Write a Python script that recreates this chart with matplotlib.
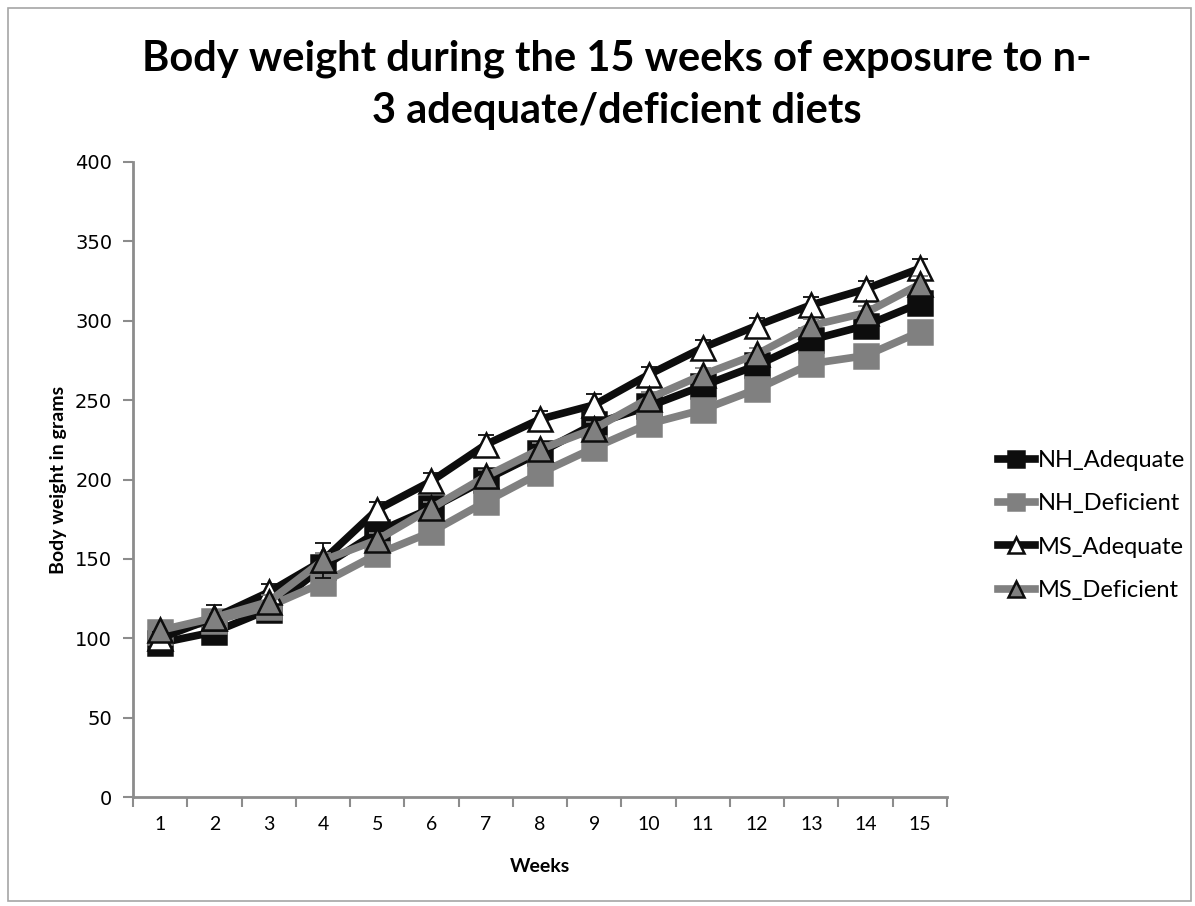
import numpy as np
import matplotlib.pyplot as plt
from matplotlib.patches import Rectangle

plt.rcParams['font.family'] = ['Lato', 'DejaVu Sans']

weeks = np.arange(1, 16)
week_labels = [str(w) for w in weeks]

nh_adequate = [97, 104, 118, 145, 167, 182, 200, 217, 235, 246, 259, 272, 288, 297, 311]
nh_deficient = [104, 111, 120, 135, 153, 167, 186, 204, 220, 235, 244, 257, 273, 278, 293]
ms_adequate = [100, 113, 129, 149, 181, 199, 222, 238, 247, 266, 283, 297, 310, 320, 333]
ms_deficient = [105, 113, 123, 149, 162, 182, 202, 219, 232, 251, 266, 279, 297, 305, 323]

nh_adequate_err = [3, 4, 4, 5, 4, 4, 4, 4, 4, 4, 4, 4, 5, 5, 6]
nh_deficient_err = [3, 3, 4, 4, 4, 4, 4, 4, 4, 4, 4, 4, 4, 4, 5]
ms_adequate_err = [4, 8, 5, 11, 5, 5, 6, 5, 7, 5, 5, 5, 5, 5, 6]
ms_deficient_err = [3, 4, 4, 5, 4, 4, 4, 4, 4, 4, 4, 4, 4, 4, 5]

BLACK = '#0d0d0d'
GRAY = '#808080'
AXIS = '#8c8c8c'

fig = plt.figure(figsize=(11.95, 9.06), dpi=100)
fig.patches.append(Rectangle((0.007, 0.006), 0.99, 0.985, transform=fig.transFigure,
                             fill=False, edgecolor='#a6a6a6', linewidth=1.2))
ax = fig.add_axes([0.1113, 0.1203, 0.6812, 0.7009])

series = [
    ('NH_Adequate', nh_adequate, nh_adequate_err, BLACK, 's', BLACK, 17),
    ('NH_Deficient', nh_deficient, nh_deficient_err, GRAY, 's', GRAY, 17),
    ('MS_Adequate', ms_adequate, ms_adequate_err, BLACK, '^', 'white', 17),
    ('MS_Deficient', ms_deficient, ms_deficient_err, GRAY, '^', GRAY, 17),
]

handles = []
for i, (name, vals, err, col, mk, fc, ms) in enumerate(series):
    ax.errorbar(weeks, vals, yerr=err, fmt='none', ecolor=col, elinewidth=1.3,
                capsize=6, capthick=1.3, zorder=2 + i * 2)
    mec = BLACK if mk == '^' else col
    line, = ax.plot(weeks, vals, color=col, linewidth=5.5, marker=mk, markersize=ms,
                    markerfacecolor=fc, markeredgecolor=mec, markeredgewidth=1.8,
                    label=name, zorder=3 + i * 2)
    handles.append(line)

ax.set_xlim(0.5, 15.5)
ax.set_ylim(0, 400)
ax.set_yticks(np.arange(0, 401, 50))
ax.set_xticks(weeks)
ax.set_xticklabels(week_labels, fontsize=14)
ax.set_xticks(np.arange(0.5, 15.6, 1), minor=True)
ax.tick_params(axis='x', which='major', length=0, pad=14)
ax.tick_params(axis='x', which='minor', length=7, width=1.5, color=AXIS, direction='out')
ax.tick_params(axis='y', length=7, width=1.5, color=AXIS, direction='out', pad=8)
for lab in ax.get_yticklabels():
    lab.set_fontfamily('DejaVu Sans')
    lab.set_fontsize(14)

for side in ['top', 'right']:
    ax.spines[side].set_visible(False)
for side in ['left', 'bottom']:
    ax.spines[side].set_color(AXIS)
    ax.spines[side].set_linewidth(2)

ax.set_xlabel('Weeks', fontsize=14, fontweight='bold', labelpad=18)
ax.set_ylabel('Body weight in grams', fontsize=14, fontweight='bold', labelpad=6)

fig.text(0.516, 0.935, 'Body weight during the 15 weeks of exposure to n-',
         ha='center', va='center', fontsize=30, fontweight='bold')
fig.text(0.516, 0.878, '3 adequate/deficient diets',
         ha='center', va='center', fontsize=30, fontweight='bold')

leg = fig.legend(handles=handles, loc='center left', bbox_to_anchor=(0.817, 0.42),
                 frameon=False, fontsize=17, handlelength=1.6, handletextpad=0.1,
                 labelspacing=0.95, markerscale=0.7)

fig.savefig('out.png', dpi=100)
